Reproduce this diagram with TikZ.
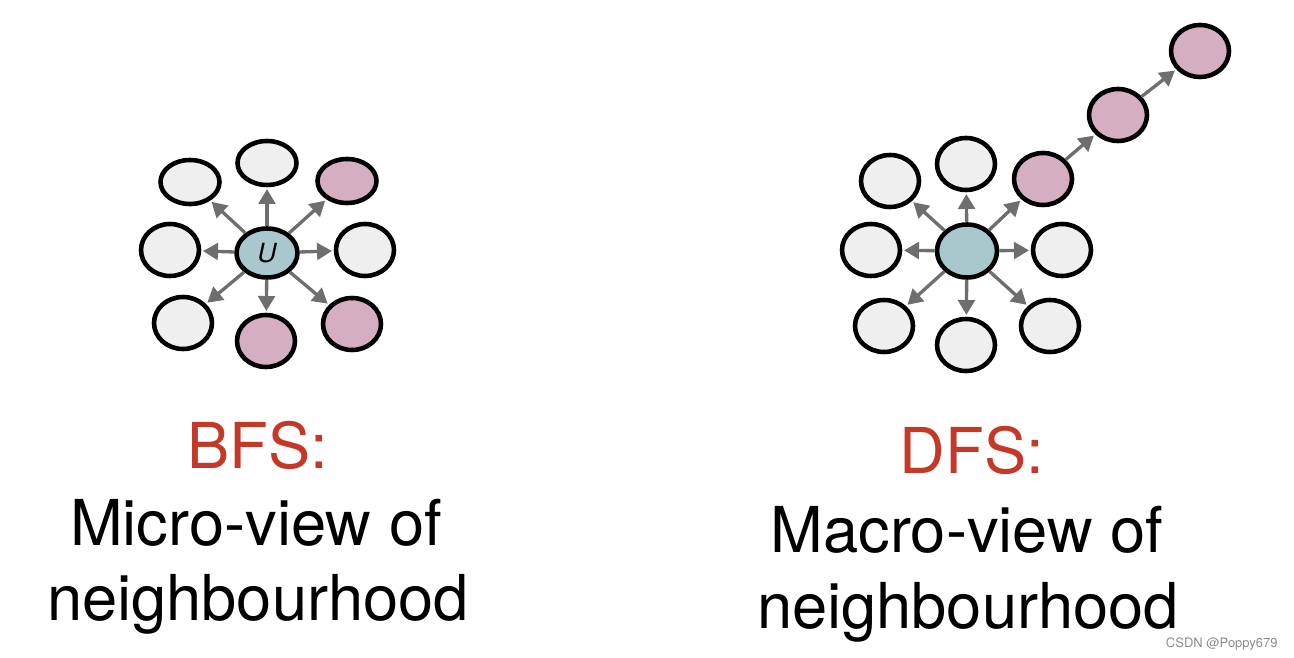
\documentclass[tikz,border=0pt]{standalone}
\usepackage{fontspec}
\setmainfont{TeX Gyre Heros}
\usetikzlibrary{arrows.meta,shapes.geometric}
\definecolor{vgrey}{RGB}{239,239,239}
\definecolor{vpink}{RGB}{213,174,193}
\definecolor{vblue}{RGB}{168,200,206}
\definecolor{agrey}{RGB}{110,110,110}
\definecolor{tred}{RGB}{196,56,40}

\begin{document}
\begin{tikzpicture}[x=0.02cm,y=-0.02cm,
      vtx/.style={ellipse,draw=black,line width=2.6pt,fill=vgrey,inner sep=0pt,
                  minimum width=1.16cm,minimum height=1.04cm},
      hit/.style={vtx,fill=vpink},
      src/.style={vtx,fill=vblue,minimum width=1.22cm,minimum height=0.98cm},
      flat/.style={minimum width=1.18cm,minimum height=0.88cm},
      lnk/.style={draw=agrey,line width=1.9pt,shorten >=1pt,
                  -{Triangle[length=8.5pt,width=9.5pt]}},
      big/.style={font=\fontsize{36}{42}\selectfont,anchor=base,inner sep=0pt}]
    \useasboundingbox (0,0) rectangle (1294,658);
    % BFS
    \node[src] (u)  at (267,253) {\fontsize{15}{17}\selectfont\itshape U};
    \node[vtx,flat] (tl) at (190,182) {};
    \node[vtx,flat] (t)  at (267,163) {};
    \node[hit,flat] (tr) at (347,181) {};
    \node[vtx] (l)  at (170,250) {};
    \node[vtx] (r)  at (365,250) {};
    \node[vtx] (bl) at (183,323) {};
    \node[hit] (b)  at (266,341) {};
    \node[hit] (br) at (352,324) {};
    \draw[lnk] (u) -- (tl);
    \draw[lnk] (u) -- (t);
    \draw[lnk] (u) -- (tr);
    \draw[lnk] (u) -- (l);
    \draw[lnk] (u) -- (r);
    \draw[lnk] (u) -- (bl);
    \draw[lnk] (u) -- (b);
    \draw[lnk] (u) -- (br);
    % DFS
    \node[src,minimum width=1.2cm,minimum height=1.06cm] (v) at (967,251) {};
    \node[vtx] (dtl) at (890,181) {};
    \node[vtx] (dt)  at (966,164) {};
    \node[hit] (p1)  at (1043,179) {};
    \node[hit] (p2)  at (1118,115) {};
    \node[hit] (p3)  at (1200,51) {};
    \node[vtx] (dl)  at (871,250) {};
    \node[vtx] (dr)  at (1062,250) {};
    \node[vtx] (dbl) at (884,326) {};
    \node[vtx] (db)  at (966,345) {};
    \node[vtx] (dbr) at (1050,326) {};
    \draw[lnk] (v) -- (dtl);
    \draw[lnk] (v) -- (dt);
    \draw[lnk] (v) -- (p1);
    \draw[lnk] (p1) -- (p2);
    \draw[lnk] (p2) -- (p3);
    \draw[lnk] (v) -- (dl);
    \draw[lnk] (v) -- (dr);
    \draw[lnk] (v) -- (dbl);
    \draw[lnk] (v) -- (db);
    \draw[lnk] (v) -- (dbr);
    % captions
    \node[big,text=tred] (bfs)  at (258,468) {BFS:};
    \node[big] (bfsa) at (256,545) {Micro-view of};
    \node[big] (bfsb) at (258,620) {neighbourhood};
    \node[big,text=tred] (dfs)  at (972,473) {DFS:};
    \node[big] (dfsa) at (967,552) {Macro-view of};
    \node[big] (dfsb) at (968,628) {neighbourhood};
    \node[anchor=base east,inner sep=0pt,text=black!45,
          font=\fontsize{7.4}{9}\selectfont] (mark) at (1278,647) {CSDN @Poppy679};
  \end{tikzpicture}
\end{document}
